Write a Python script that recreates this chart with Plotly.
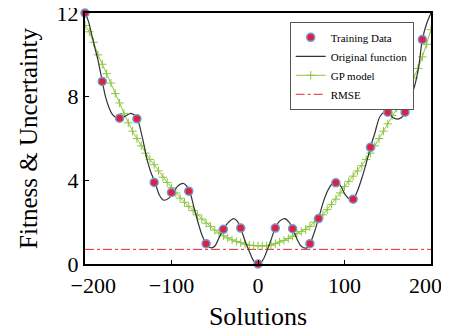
import plotly.graph_objects as go

# Training data
train_x = [-200, -180, -160, -140, -120, -100, -80, -60, -40, -20, 0, 20, 40, 60, 70, 90, 110, 130, 150, 170, 190]
train_y = [12.0, 8.73, 6.97, 6.94, 3.9, 3.42, 3.48, 0.97, 1.66, 1.72, 0.0, 1.72, 1.69, 0.97, 2.17, 3.88, 3.1, 5.58, 7.26, 7.26, 10.73]

# Original function
orig_x = [-200, -196, -193, -189, -185, -180, -176, -172, -168, -163, -158, -153, -147, -143, -139.5,
          -134, -128, -124, -119, -114, -109, -103, -98, -92, -86, -82, -79, -74, -68, -64, -60, -57,
          -54, -50, -45, -40, -34, -28, -24, -20, -15, -10, -5, 0, 5, 10, 15, 20, 25, 31, 36, 40, 45,
          50, 56, 60, 65, 70, 75, 80, 85, 91, 96, 101, 106, 110, 115, 120, 125, 130, 135, 141, 146,
          150, 156, 161, 166, 170, 175, 181, 186, 190, 195, 200]
orig_y = [12.0, 11.6, 11.1, 10.4, 9.75, 8.73, 7.95, 7.45, 7.13, 6.98, 6.97, 7.08, 7.2, 7.12, 6.94,
          6.1, 4.95, 4.4, 3.9, 3.3, 3.05, 3.15, 3.42, 3.75, 3.85, 3.7, 3.48, 2.7, 1.8, 1.3, 0.97, 0.82,
          0.77, 0.85, 1.25, 1.66, 2.0, 2.17, 2.05, 1.72, 1.1, 0.6, 0.15, 0.0, 0.15, 0.6, 1.15, 1.72, 2.05, 2.17, 2.0, 1.69, 1.2,
          0.85, 0.76, 0.97, 1.5, 2.17, 2.9, 3.45, 3.8, 3.93, 3.7, 3.3, 3.1, 3.1, 3.5, 4.1, 4.8, 5.58, 6.25, 7.05, 7.27,
          7.26, 7.0, 6.93, 7.0, 7.26, 7.8, 8.5, 9.5, 10.73, 11.5, 12.0]

# GP model prediction
gp_x = list(range(-200, 201, 5))
gp_y = [11.4, 11.1, 10.6, 10.0, 9.55, 9.1, 8.65, 8.15, 7.7, 7.2, 6.75, 6.35, 6.0, 5.65, 5.3, 5.0,
        4.75, 4.45, 4.15, 3.9, 3.65, 3.4, 3.15, 2.95, 2.75, 2.55, 2.35, 2.15, 1.95, 1.8, 1.62, 1.48,
        1.35, 1.25, 1.15, 1.07, 1.02, 0.95, 0.9, 0.88, 0.87, 0.86, 0.87, 0.9, 0.97, 1.05, 1.13, 1.22,
        1.33, 1.45, 1.55, 1.65, 1.8, 2.0, 2.15, 2.35, 2.6, 2.85, 3.1, 3.4, 3.7, 3.95, 4.2, 4.45, 4.7,
        5.0, 5.3, 5.65, 6.0, 6.35, 6.7, 7.1, 7.45, 7.75, 8.0, 8.45, 8.9, 9.35, 9.9, 10.5, 11.2]

# RMSE level
rmse_x = [-200, 200]
rmse_y = [0.7, 0.7]

NB = "\u00a0"
x_ticks = [-200, -100, 0, 100, 200]
x_ticktext = [NB * 3 + "\u2212200", "\u2212100", "0", "100", "200" + NB * 2]
y_ticks = [0, 4, 8, 12]

SERIF = "Liberation Serif, Times New Roman, serif"

fig = go.Figure()
fig.add_trace(go.Scatter(x=rmse_x, y=rmse_y, mode="lines", name="RMSE", legendrank=4,
                         line=dict(color="#e02a36", width=1, dash="dashdot")))
fig.add_trace(go.Scatter(x=gp_x, y=gp_y, mode="lines+markers", name="GP model", legendrank=3,
                         line=dict(color="#8cc63e", width=1),
                         marker=dict(symbol="cross-thin", size=6, color="#8cc63e",
                                     line=dict(color="#8cc63e", width=1))))
fig.add_trace(go.Scatter(x=orig_x, y=orig_y, mode="lines", name="Original function", legendrank=2,
                         line=dict(color="#333333", width=1.2, shape="spline", smoothing=1.0)))
fig.add_trace(go.Scatter(x=train_x, y=train_y, mode="markers", name="Training Data", legendrank=1,
                         cliponaxis=False,
                         marker=dict(symbol="circle", size=8, color="#e3203a",
                                     line=dict(color="#6b9bd8", width=1.5))))

axis_common = dict(showline=True, linecolor="black", linewidth=2, mirror=True,
                   ticks="inside", ticklen=4, tickcolor="black", showgrid=False, zeroline=False,
                   automargin=False, ticklabeloverflow="allow",
                   tickfont=dict(family=SERIF, size=22, color="black"))

# page body adds ~8px offset; figure sized to fit the 449x331 window
fig.update_layout(
    template="none",
    width=441, height=323,
    margin=dict(l=77, r=18, t=5, b=67),
    paper_bgcolor="white", plot_bgcolor="white",
    font=dict(family=SERIF, color="black"),
    xaxis=dict(range=[-200, 200], tickvals=x_ticks, ticktext=x_ticktext, ticklabelstandoff=1,
               title=dict(text="Solutions", font=dict(family=SERIF, size=26), standoff=9),
               **axis_common),
    yaxis=dict(range=[0, 12], tickvals=y_ticks,
               title=dict(text="Fitness & Uncertainty", font=dict(family=SERIF, size=25), standoff=12),
               **axis_common),
    legend=dict(x=0.95, y=0.965, xanchor="right", yanchor="top",
                bgcolor="white", bordercolor="#555555", borderwidth=1,
                font=dict(family=SERIF, size=11, color="black"),
                tracegroupgap=0, itemwidth=30),
    showlegend=True,
)

fig.write_html("out.html")
